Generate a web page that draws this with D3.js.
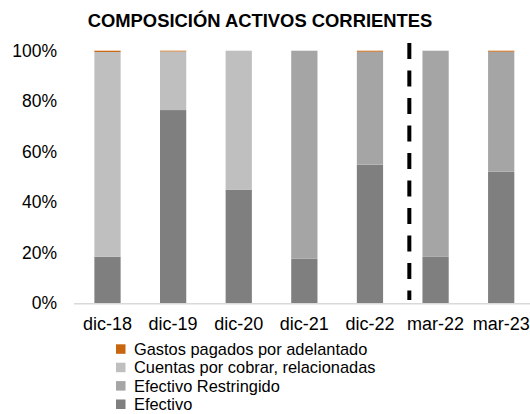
<!DOCTYPE html>
<html lang="es">
<head>
<meta charset="UTF-8">
<title>Composición activos corrientes</title>
<script src="https://d3js.org/d3.v7.min.js"></script>
<style>
    body { margin: 0; background: #fff; }
    svg { display: block; font-family: Arial, "Liberation Sans", sans-serif; }
</style>
</head>
<body>
<div id="chart"></div>
<script>
    // Periods and series (share of current assets, %)
    const periods = ["dic-18", "dic-19", "dic-20", "dic-21", "dic-22", "mar-22", "mar-23"];
    const efectivo = [18.4, 76.5, 45.0, 17.7, 54.9, 18.4, 52.1];
    const efectivoRestringido = [0, 0, 0, 82.3, 44.7, 81.6, 47.5];
    const cuentasRelacionadas = [81.1, 23.2, 55.0, 0, 0, 0, 0];
    const gastosAdelantado = [0.5, 0.3, 0, 0, 0.4, 0, 0.4];
    const yTicks = [0, 20, 40, 60, 80, 100];
    const dividerAfter = "dic-22";

    const seriesNames = ["Efectivo", "Efectivo Restringido", "Cuentas por cobrar, relacionadas", "Gastos pagados por adelantado"];
    const seriesValues = [efectivo, efectivoRestringido, cuentasRelacionadas, gastosAdelantado];
    const colors = ["#7f7f7f", "#a5a5a5", "#bfbfbf", "#c8660f"];

    const width = 530, height = 414;

    const svg = d3.select("#chart")
        .append("svg")
        .attr("width", width)
        .attr("height", height);

    // Title
    svg.append("text")
        .attr("x", 260)
        .attr("y", 27)
        .attr("text-anchor", "middle")
        .style("font-size", "18.4px")
        .style("font-weight", "bold")
        .text("COMPOSICIÓN ACTIVOS CORRIENTES");

    const x = d3.scaleBand()
        .domain(periods)
        .range([74.7, 534])
        .paddingInner(0.6)
        .paddingOuter(0.3);

    const y = d3.scaleLinear()
        .domain([0, 100])
        .range([303.3, 50.7]);

    // Build stacked table
    const table = periods.map((p, i) => {
        const row = { period: p };
        seriesNames.forEach((s, j) => row[s] = seriesValues[j][i]);
        return row;
    });
    const stacked = d3.stack().keys(seriesNames)(table);

    // Y axis labels
    svg.append("g")
        .selectAll("text")
        .data(yTicks)
        .enter()
        .append("text")
        .attr("x", 57)
        .attr("y", d => y(d))
        .attr("dy", "0.35em")
        .attr("text-anchor", "end")
        .style("font-size", "17.5px")
        .style("fill", "#000")
        .text(d => d + "%");

    // Bars
    svg.append("g")
        .selectAll("g")
        .data(stacked)
        .enter()
        .append("g")
        .attr("fill", (d, i) => colors[i])
        .selectAll("rect")
        .data(d => d)
        .enter()
        .append("rect")
        .attr("x", d => x(d.data.period))
        .attr("y", d => y(d[1]))
        .attr("width", x.bandwidth())
        .attr("height", d => y(d[0]) - y(d[1]));

    // X axis line + labels
    const xAxis = svg.append("g")
        .attr("transform", `translate(0,${y(0)})`)
        .call(d3.axisBottom(x).tickSize(0).tickPadding(14));
    xAxis.select(".domain")
        .attr("d", `M74,0.5H530`)
        .attr("stroke", "#d9d9d9")
        .attr("stroke-width", 1.5);
    xAxis.selectAll("text")
        .style("font-size", "18px")
        .style("font-family", "Arial, 'Liberation Sans', sans-serif")
        .style("fill", "#000");

    // Dashed divider between annual and quarterly periods
    const next = periods[periods.indexOf(dividerAfter) + 1];
    const xDiv = x(next) - x.step() * 0.2;
    svg.append("line")
        .attr("x1", xDiv)
        .attr("x2", xDiv)
        .attr("y1", 43)
        .attr("y2", 300)
        .attr("stroke", "#000")
        .attr("stroke-width", 4)
        .attr("stroke-dasharray", "16,11.5");

    // Legend
    const legendItems = seriesNames.map((s, i) => ({ name: s, color: colors[i] })).reverse();
    const legend = svg.append("g")
        .attr("transform", "translate(116,349)");
    const item = legend.selectAll("g")
        .data(legendItems)
        .enter()
        .append("g")
        .attr("transform", (d, i) => `translate(0,${i * 18.4})`);
    item.append("rect")
        .attr("x", 0)
        .attr("y", -4.7)
        .attr("width", 9.5)
        .attr("height", 9.5)
        .attr("fill", d => d.color);
    item.append("text")
        .attr("x", 18)
        .attr("y", 0)
        .attr("dy", "0.35em")
        .style("font-size", "16.4px")
        .text(d => d.name);
</script>
</body>
</html>
